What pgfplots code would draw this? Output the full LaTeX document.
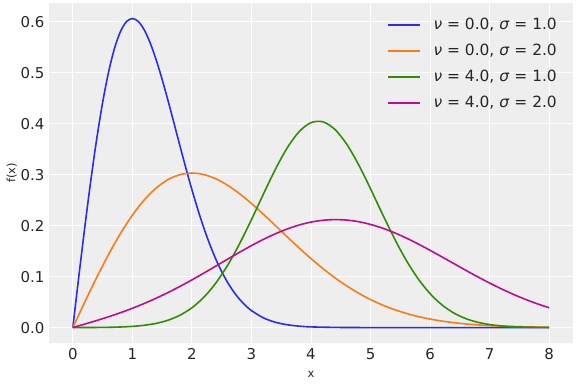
\documentclass[border=0pt]{standalone}
\usepackage{fontspec}
\setmainfont{DejaVu Sans}
\usepackage{pgfplots}
\pgfplotsset{compat=1.18}
\definecolor{cA}{HTML}{2A2EEC}
\definecolor{cB}{HTML}{FA7C17}
\definecolor{cC}{HTML}{328C06}
\definecolor{cD}{HTML}{C10C90}
\definecolor{bg}{HTML}{EEEEEE}
\definecolor{txt}{HTML}{262626}
\begin{document}
\begin{tikzpicture}
\begin{axis}[
  scale only axis, width=524bp, height=340bp,
  xmin=-0.4, xmax=8.4, ymin=-0.0303, ymax=0.637,
  axis background/.style={fill=bg},
  axis line style={draw=none},
  major tick length=0pt,
  grid=major, grid style={white, line width=0.9bp},
  xtick={0,1,...,8}, ytick={0,0.1,...,0.6},
  /pgf/number format/assume math mode=true,
  /pgf/number format/fixed, /pgf/number format/fixed zerofill,
  /pgf/number format/precision=1,
  xticklabel={\pgfmathprintnumber[fixed,precision=0]{\tick}},
  ticklabel style={font=\fontsize{15}{15}\selectfont, text=txt},
  xticklabel style={yshift=-2bp},
  yticklabel style={xshift=-1bp},
  xlabel={x}, ylabel={f(x)},
  label style={font=\fontsize{11.5}{11.5}\selectfont, text=txt},
  xlabel style={yshift=-5bp},
  ylabel style={yshift=-3bp},
  legend style={draw=none, fill=none, at={(0.9695,0.956)}, anchor=north east,
    inner sep=0pt,
    font=\fontsize{15.5}{15.5}\selectfont, text=txt, row sep=12bp, column sep=13bp,
    nodes={inner sep=0pt, text height=11bp, text depth=3bp},
    legend cell align=left},
  legend image code/.code={\draw[#1, line width=1.6bp] (0bp,0bp) -- (32bp,0bp);},
  every axis plot/.append style={line width=1.6bp},
  clip=true,
]
\addplot[cA, smooth] coordinates {
(0,0)(0.1,0.0995)(0.2,0.1960)(0.3,0.2868)(0.4,0.3692)(0.5,0.4412)(0.6,0.5012)(0.7,0.5479)(0.8,0.5809)(0.9,0.6003)(1.0,0.6065)(1.1,0.6007)(1.2,0.5841)(1.3,0.5584)(1.4,0.5254)(1.5,0.4870)(1.6,0.4449)(1.7,0.4008)(1.8,0.3562)(1.9,0.3125)(2.0,0.2707)(2.1,0.2315)(2.2,0.1956)(2.3,0.1633)(2.4,0.1347)(2.5,0.1098)(2.6,0.0885)(2.7,0.0705)(2.8,0.0556)(2.9,0.0433)(3.0,0.0333)(3.2,0.0191)(3.4,0.0105)(3.6,0.0055)(3.8,0.0028)(4.0,0.0013)(4.5,0.0002)(5.0,0.0000)(6.0,0)(7.0,0)(8.0,0)
};
\addlegendentry{\textit{ν} = 0.0, \textit{σ} = 1.0}
\addplot[cB, smooth] coordinates {
(0,0)(0.2,0.0498)(0.4,0.0980)(0.6,0.1434)(0.8,0.1846)(1.0,0.2206)(1.2,0.2506)(1.4,0.2739)(1.6,0.2905)(1.8,0.3001)(2.0,0.3033)(2.2,0.3003)(2.4,0.2921)(2.6,0.2792)(2.8,0.2627)(3.0,0.2435)(3.2,0.2224)(3.4,0.2004)(3.6,0.1781)(3.8,0.1562)(4.0,0.1353)(4.2,0.1158)(4.4,0.0978)(4.6,0.0817)(4.8,0.0674)(5.0,0.0549)(5.2,0.0443)(5.4,0.0353)(5.6,0.0278)(5.8,0.0216)(6.0,0.0167)(6.2,0.0127)(6.4,0.0096)(6.6,0.0071)(6.8,0.0053)(7.0,0.0038)(7.2,0.0028)(7.4,0.0020)(7.6,0.0014)(7.8,0.0010)(8.0,0.0007)
};
\addlegendentry{\textit{ν} = 0.0, \textit{σ} = 2.0}
\addplot[cC, smooth] coordinates {
(0,0)(0.2,0.00008)(0.4,0.00022)(0.6,0.00051)(0.8,0.00112)(1.0,0.0023)(1.2,0.00447)(1.4,0.00824)(1.6,0.01447)(1.8,0.02425)(2.0,0.03882)(2.2,0.05944)(2.4,0.08711)(2.6,0.12226)(2.8,0.16438)(3.0,0.21184)(3.2,0.26177)(3.4,0.31018)(3.6,0.35253)(3.8,0.38440)(4.0,0.40219)(4.2,0.40378)(4.4,0.38907)(4.6,0.35983)(4.8,0.31949)(5.0,0.27227)(5.2,0.22276)(5.4,0.17501)(5.6,0.13200)(5.8,0.09560)(6.0,0.06648)(6.2,0.04440)(6.4,0.02847)(6.6,0.01753)(6.8,0.01037)(7.0,0.00589)(7.2,0.00321)(7.4,0.00168)(7.6,0.00085)(7.8,0.00041)(8.0,0.00019)
};
\addlegendentry{\textit{ν} = 4.0, \textit{σ} = 1.0}
\addplot[cD, smooth] coordinates {
(0,0)(0.2,0.00680)(0.4,0.01380)(0.6,0.02119)(0.8,0.02915)(1.0,0.03781)(1.2,0.04727)(1.4,0.05760)(1.6,0.06879)(1.8,0.08082)(2.0,0.09356)(2.2,0.10686)(2.4,0.12051)(2.6,0.13426)(2.8,0.14781)(3.0,0.16083)(3.2,0.17303)(3.4,0.18397)(3.6,0.19346)(3.8,0.20125)(4.0,0.20700)(4.2,0.21052)(4.4,0.21188)(4.6,0.21094)(4.8,0.20776)(5.0,0.20243)(5.2,0.19516)(5.4,0.18616)(5.6,0.17568)(5.8,0.16406)(6.0,0.15162)(6.2,0.13865)(6.4,0.12547)(6.6,0.11236)(6.8,0.09958)(7.0,0.08735)(7.2,0.07582)(7.4,0.06514)(7.6,0.05539)(7.8,0.04661)(8.0,0.03882)
};
\addlegendentry{\textit{ν} = 4.0, \textit{σ} = 2.0}
\end{axis}
\path (current axis.south west)+(-49bp,-41bp) rectangle ([shift={(3bp,3bp)}]current axis.north east);
\end{tikzpicture}
\end{document}
